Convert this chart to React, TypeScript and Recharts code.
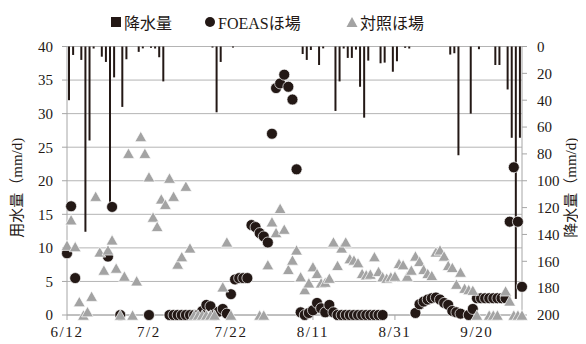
import React from 'react';
import { ComposedChart, Bar, Scatter, XAxis, YAxis, CartesianGrid, Legend } from 'recharts';

const FONT = "'Liberation Serif', 'Noto Sans CJK JP', serif";
const INK = '#231815';
const GRID = '#b4b4b4';
const AXIS = '#a6a6a6';
const TRI = '#a3a3a3';

// x axis: day index from 6/12
const dateTickDays = [0, 20, 40, 60, 80, 100];
const dateLabels = ['6/12', '7/2', '7/22', '8/11', '8/31', '9/20'];
const leftTicks = [0, 5, 10, 15, 20, 25, 30, 35, 40];
const rightTicks = [0, 20, 40, 60, 80, 100, 120, 140, 160, 180, 200];

// 降水量 (mm/d)
const rainDays = [0, 1, 3, 4, 5, 6, 8, 9, 10, 11, 13, 14, 17, 18, 20, 21, 22, 23, 35, 36, 37, 40,
  57, 58, 59, 61, 62, 65, 66, 67, 68, 69, 70, 71, 72, 73, 76, 77, 79, 80, 82, 83,
  93, 94, 95, 98, 100, 104, 105, 107, 108, 109, 110];
const rainValues = [40, 6.3, 10, 138, 70, 1.5, 7.6, 11.5, 119, 23, 45, 9.5, 4, 1.4, 1, 1.5, 8, 26, 0.8, 49, 11.5, 0.8,
  5.6, 10, 2.6, 13.8, 1.4, 48, 26, 1.5, 8.5, 8.5, 2.3, 30, 53, 10.5, 12.5, 12, 18.8, 11, 1, 1.5,
  6, 5, 81, 50, 2, 13.8, 13.8, 32, 68, 188, 68];

// FOEASほ場 用水量 (mm/d)
const foeasDays = [0, 1, 2, 10, 11, 13, 20, 25, 26, 27, 28, 29, 30, 31, 32, 33, 34, 35, 36, 37, 38, 39,
  40, 41, 42, 43, 44, 45, 46, 47, 48, 49, 50, 51, 52, 53, 54, 55, 56, 57, 58, 59, 60, 61, 62, 63, 64, 65,
  66, 67, 68, 69, 70, 71, 72, 73, 74, 75, 76, 77, 85, 86, 87, 88, 89, 90, 91, 92, 93, 94, 95, 96, 98, 99,
  100, 101, 102, 103, 104, 105, 106, 107, 108, 109, 110, 111];
const foeasValues = [9.2, 16.2, 5.5, 8.7, 16.1, 0, 0, 0, 0, 0, 0, 0, 0, 0, 0, 0.6, 1.5, 1.3, 0, 0.5, 0.9, 0.2,
  3.1, 5.3, 5.5, 5.5, 5.5, 13.4, 13.1, 12.2, 11.7, 10.8, 27, 33.8, 34.5, 35.8, 34.0, 32.1, 21.7, 0.4, 0, 0.3, 0.7, 1.8, 1.0, 0.4, 1.5, 0.4,
  0, 0, 0, 0, 0, 0, 0, 0, 0, 0, 0, 0, 0.3, 1.6, 2.0, 2.3, 2.5, 2.6, 2.3, 1.8, 1.5, 0.6, 0.4, 0.2, 0, 0.9,
  2.5, 2.5, 2.5, 2.5, 2.5, 2.5, 2.5, 2.5, 13.9, 22, 13.9, 4.2];

// 対照ほ場 用水量 (mm/d)
const ctrlDays = [0, 1, 2, 3, 4, 5, 6, 7, 8, 9, 10, 11, 12, 13, 14, 15, 16, 17, 18, 19, 20, 21, 22, 23, 24,
  25, 26, 27, 28, 29, 30, 31, 32, 33, 34, 35, 36, 38, 39, 40, 47, 48, 49, 50, 51, 52, 53, 54, 55, 56, 57,
  58, 59, 60, 61, 62, 63, 64, 65, 66, 67, 68, 69, 70, 71, 72, 73, 74, 75, 76, 77, 78, 79, 80, 81, 82, 83,
  84, 85, 86, 87, 88, 89, 90, 91, 92, 93, 94, 95, 96, 97, 98, 99, 100, 103, 104, 105, 107, 108, 109, 110, 111];
const ctrlValues = [10.4, 14.2, 10.2, 2.0, 0, 0.5, 2.8, 17.7, 9.4, 6.7, 9.7, 11.2, 7.0, 0, 5.8, 24.1, 0, 5.1, 26.6, 24.1, 20.6, 14.6, 13.2, 17.3, 16.5,
  20.4, 17.7, 7.6, 8.7, 19.2, 10.0, 0, 0, 0, 0, 0, 0, 4.2, 10.9, 0, 0, 0, 7.5, 13.9, 12.3, 15.9, 12.8, 6.8, 8.2, 9.7, 5.7,
  3.8, 4.8, 7.2, 6.2, 4.8, 4.9, 5.5, 10.9, 7.4, 10.0, 10.9, 8.4, 8.2, 7.8, 6.2, 6.0, 6.1, 8.7, 6.5, 5.7, 5.5, 5.7, 5.8, 7.7, 7.5, 5.8,
  6.7, 8.8, 8.0, 6.8, 6.2, 5.9, 9.4, 9.7, 8.8, 7.4, 7.1, 4.6, 6.4, 4.0, 3.8, 3.7, 0, 0, 0, 0, 3.6, 2.1, 0, 0, 0];

// columns sit between date ticks (as in the source chart)
const rainData = rainDays.map((d, i) => ({ x: d + 0.5, p: rainValues[i] }));
const foeasData = foeasDays.map((d, i) => ({ x: d, v: foeasValues[i] }));
const ctrlData = ctrlDays.map((d, i) => ({ x: d, v: ctrlValues[i] }));

const Dot = (props: any) => {
  const { cx, cy } = props;
  if (cx == null || cy == null) return null;
  return <circle cx={cx} cy={cy} r={5.5} fill={INK} stroke="#ffffff" strokeWidth={0.7} />;
};

const Tri = (props: any) => {
  const { cx, cy } = props;
  if (cx == null || cy == null) return null;
  const h = 5.2;
  const w = 5.9;
  return (
    <path
      d={`M${cx},${cy - h} L${cx + w},${cy + h} L${cx - w},${cy + h} Z`}
      fill={TRI}
      stroke="#ffffff"
      strokeWidth={0.7}
    />
  );
};

const LeftTitle = (props: any) => {
  const vb = props.viewBox || { x: 0, y: 0, width: 0, height: 0 };
  const cx = vb.x + 9;
  const cy = vb.y + vb.height / 2 + 7;
  return (
    <text x={cx} y={cy} transform={`rotate(-90 ${cx} ${cy})`} textAnchor="middle" dominantBaseline="central"
      fontFamily={FONT} fontSize={15} fill={INK}>用水量（mm/d)</text>
  );
};

const RightTitle = (props: any) => {
  const vb = props.viewBox || { x: 0, y: 0, width: 0, height: 0 };
  const cx = vb.x + 49;
  const cy = vb.y + vb.height / 2 + 7;
  return (
    <text x={cx} y={cy} transform={`rotate(-90 ${cx} ${cy})`} textAnchor="middle" dominantBaseline="central"
      fontFamily={FONT} fontSize={15} fill={INK}>降水量（mm/d)</text>
  );
};

const LegendContent = () => (
  <div style={{ position: 'relative', height: 22, width: 578, fontFamily: FONT, fontSize: 16, color: INK }}>
    <div style={{ position: 'absolute', left: 102, top: 0, display: 'flex', alignItems: 'center', height: 22 }}>
      <svg width={12} height={12} style={{ marginRight: 2 }}><rect x={1} y={1} width={10} height={10} fill={INK} /></svg>
      <span>降水量</span>
    </div>
    <div style={{ position: 'absolute', left: 196, top: 0, display: 'flex', alignItems: 'center', height: 22 }}>
      <svg width={12} height={12} style={{ marginRight: 2 }}><circle cx={6} cy={6} r={5} fill={INK} /></svg>
      <span>FOEASほ場</span>
    </div>
    <div style={{ position: 'absolute', left: 338, top: 0, display: 'flex', alignItems: 'center', height: 22 }}>
      <svg width={12} height={12} style={{ marginRight: 2 }}><path d="M6,1 L11.5,11 L0.5,11 Z" fill={TRI} /></svg>
      <span>対照ほ場</span>
    </div>
  </div>
);

const tickStyle = { fontFamily: FONT, fontSize: 15, fill: INK };

export default function App() {
  return (
    <div style={{ width: 578, height: 336 }}>
      <ComposedChart width={578} height={336} data={rainData} margin={{ top: 38.5, right: 0, bottom: 0, left: 0 }}>
        <CartesianGrid yAxisId="left" horizontal vertical={false} stroke={GRID} strokeWidth={1} />
        <XAxis
          type="number"
          dataKey="x"
          domain={[0, 111]}
          ticks={dateTickDays}
          interval={0}
          tickFormatter={(v: number) => dateLabels[dateTickDays.indexOf(v)]}
          height={29}
          stroke={AXIS}
          tickSize={5}
          tickMargin={6}
          tick={{ ...tickStyle, letterSpacing: 1.6 } as any}
          tickLine={{ stroke: AXIS }}
        />
        <YAxis
          yAxisId="left"
          domain={[0, 40]}
          ticks={leftTicks}
          interval={0}
          width={59}
          stroke={AXIS}
          tickSize={5}
          tickMargin={9}
          tick={tickStyle}
          tickLine={{ stroke: AXIS }}
          label={<LeftTitle />}
        />
        <YAxis
          yAxisId="right"
          orientation="right"
          reversed
          domain={[0, 200]}
          ticks={rightTicks}
          interval={0}
          width={64}
          stroke={AXIS}
          tickSize={5}
          tickMargin={10}
          tick={tickStyle}
          tickLine={{ stroke: AXIS }}
          label={<RightTitle />}
        />
        <Legend
          verticalAlign="middle"
          align="center"
          layout="horizontal"
          wrapperStyle={{ top: 3, left: 0, width: 578 }}
          content={<LegendContent />}
        />
        <Bar yAxisId="right" dataKey="p" barSize={2} fill={INK} isAnimationActive={false} />
        <Scatter yAxisId="left" data={foeasData} dataKey="v" shape={<Dot />} isAnimationActive={false} />
        <Scatter yAxisId="left" data={ctrlData} dataKey="v" shape={<Tri />} isAnimationActive={false} />
      </ComposedChart>
    </div>
  );
}
